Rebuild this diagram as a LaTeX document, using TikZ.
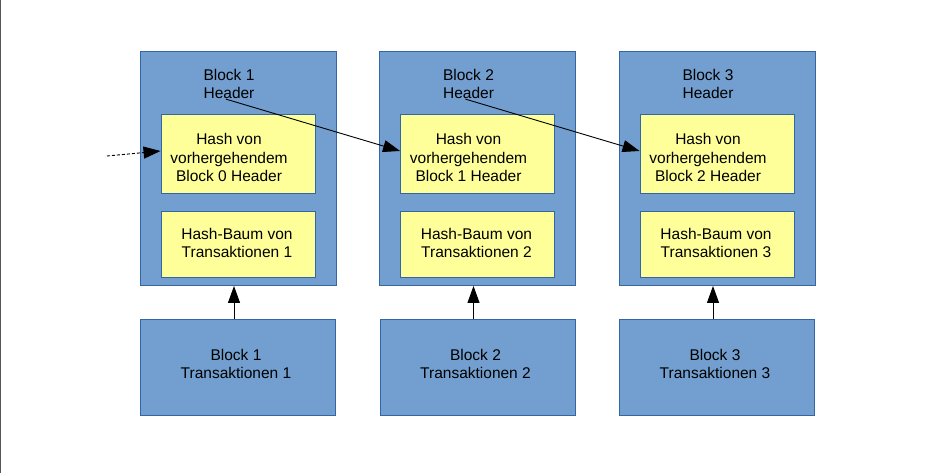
\documentclass[tikz,border=0pt]{standalone}
\usepackage{fontspec}
\setmainfont{Liberation Sans}
\usetikzlibrary{arrows.meta,calc}
\definecolor{bblue}{HTML}{729FCF}
\definecolor{bline}{HTML}{3465A4}
\definecolor{yfill}{HTML}{FFFF99}
\definecolor{edgegray}{HTML}{555555}
\begin{document}
\begin{tikzpicture}[x=1pt,y=-1pt,
  blockbox/.style={draw=bline,fill=bblue,line width=0.9pt,minimum width=196pt,minimum height=234pt,inner sep=0pt},
  lowbox/.style={draw=bline,fill=bblue,line width=0.9pt,minimum width=195pt,minimum height=96pt,inner sep=0pt},
  ybox/.style={draw=bline,fill=yfill,line width=0.9pt,minimum width=154pt,inner sep=0pt},
  txt/.style={align=center,inner sep=0pt,font=\fontsize{15.5}{18.5}\selectfont},
  conn/.style={line width=0.9pt,-{Triangle[length=17pt,width=12pt]}}]
\useasboundingbox (0,0) rectangle (949,473);
\draw[edgegray,line width=1.2pt] (0.6,0) -- (0.6,473);
\foreach \i/\p in {1/0,2/1,3/2}{
  \pgfmathsetmacro{\cx}{238+(\i-1)*239.5}
  \node[blockbox] (blk\i) at (\cx,168.5) {};
  \node[ybox,minimum height=79pt] (hash\i) at (\cx,153.5) {};
  \node[ybox,minimum height=66pt] (tree\i) at (\cx,244) {};
  \node[lowbox] (tx\i) at (\cx,367) {};
  \node[txt] (head\i) at (\cx-9,84) {Block \i\\Header};
  \node[txt] (hasht\i) at (\cx-9,157.5) {Hash von\\vorhergehendem\\Block \p\ Header};
  \node[txt] (treet\i) at (\cx-1,243) {Hash-Baum von\\Transaktionen \i};
  \node[txt] (txt\i) at (\cx-2,364) {Block \i\\Transaktionen \i};
  \draw[conn] ([xshift=-4pt]tx\i.north) -- ([xshift=-4pt]blk\i.south);
}
\coordinate (start0) at (107,156);
\draw[conn,dash pattern=on 3pt off 2pt] (start0) -- ([yshift=2.5pt]hash1.west);
\draw[conn] ([xshift=-3pt]head1.south) -- ([yshift=2.5pt]hash2.west);
\draw[conn] ([xshift=-3pt]head2.south) -- ([yshift=2.5pt]hash3.west);
\end{tikzpicture}
\end{document}
